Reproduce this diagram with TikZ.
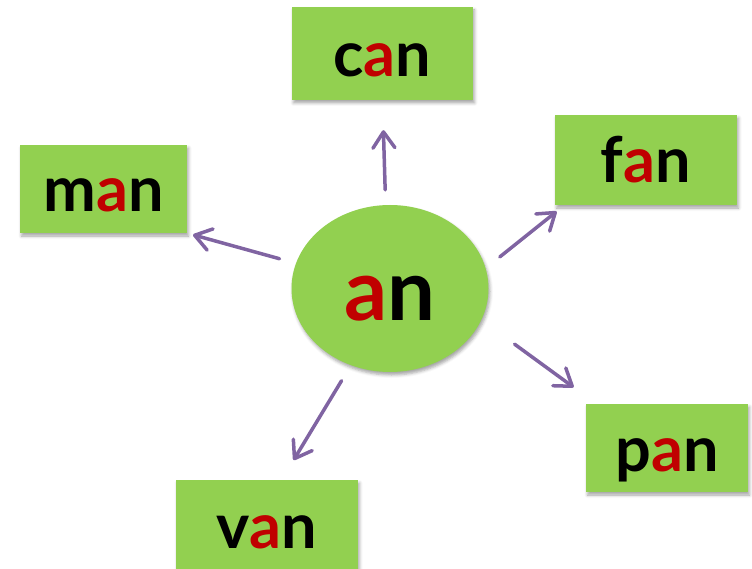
\documentclass[tikz,border=0pt]{standalone}
\usepackage{fontspec}
\setmainfont{Lato}
\usepackage{xcolor}
\usepackage{tikz}
\usetikzlibrary{arrows.meta,shapes.geometric,shadows.blur}
\definecolor{leaf}{HTML}{92D050}
\definecolor{vowel}{HTML}{C00000}
\definecolor{linkink}{HTML}{8064A2}
\newcommand{\rime}[2]{#1\textcolor{vowel}{a}#2}

\begin{document}
\begin{tikzpicture}[x=1pt,y=-1pt,
  soft/.style={blur shadow={shadow xshift=1.5pt,shadow yshift=-3pt,shadow opacity=35,shadow blur radius=3pt}},
  word/.style={rectangle,fill=leaf,soft,inner sep=0pt,text height=46pt,text depth=0pt,
    font=\fontsize{63}{63}\selectfont\bfseries},
  root/.style={ellipse,fill=leaf,soft,inner sep=0pt,minimum width=197pt,minimum height=167pt,
    text height=63pt,text depth=0pt,font=\fontsize{85}{85}\selectfont\bfseries},
  link/.style={draw=linkink,line width=3.5pt,line cap=round,
    -{Straight Barb[length=16pt,width=22pt,round]}}]
  \useasboundingbox (0,0) rectangle (752,569);
  % centre rime
  \node[root] (an) at (390,288.5) {\rime{}{n}};
  % word cards
  \node[word,minimum width=181pt,minimum height=93pt] (can) at (382.5,53.5) {\rime{c}{n}};
  \node[word,minimum width=182pt,minimum height=90pt] (fan) at (646,160) {\rime{f}{n}};
  \node[word,minimum width=167pt,minimum height=88pt] (man) at (103.5,189) {\rime{m}{n}};
  \node[word,minimum width=162pt,minimum height=88pt] (pan) at (667,448) {\rime{p}{n}};
  \node[word,minimum width=182pt,minimum height=90pt] (van) at (267,525) {\rime{v}{n}};
  % arrows out of the rime
  \draw[link,shorten <=15pt,shorten >=30pt] (an.93) -- (can.south);
  \draw[link,shorten <=18pt,shorten >=10pt] (an.12) -- (fan.209);
  \draw[link,shorten <=17pt,shorten >=6pt] (an.165) -- (man.south east);
  \draw[link,shorten <=41pt,shorten >=28pt] (an.-19) -- (pan.148);
  \draw[link,shorten <=18pt,shorten >=23pt] (an.243) -- (van.72);
\end{tikzpicture}
\end{document}
